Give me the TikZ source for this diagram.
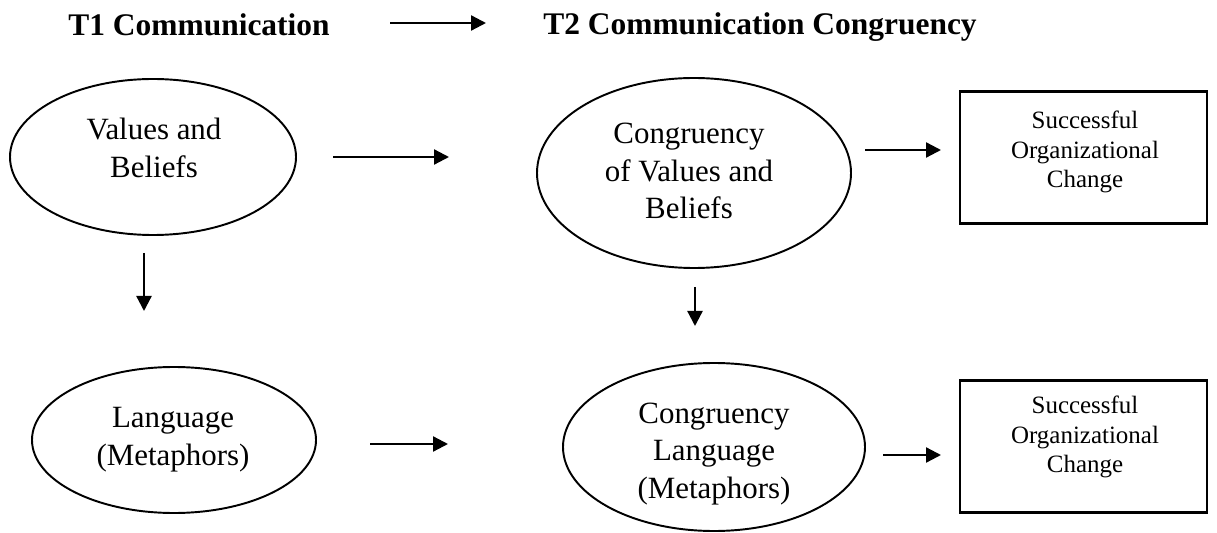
\documentclass[tikz,border=0pt]{standalone}
\usepackage{fontspec}
\setmainfont{Liberation Serif}
\usepackage{tikz}
\usetikzlibrary{shapes.geometric,arrows.meta,positioning}

\newcommand{\bodysize}{\fontsize{17.6}{21.5}\selectfont}
\newcommand{\boxsize}{\fontsize{14.2}{17}\selectfont}

\begin{document}
\begin{tikzpicture}[font=\bodysize,
  oval/.style={draw, ellipse, line width=1.1pt, inner sep=0pt},
  label text/.style={align=center, inner sep=0pt},
  change box/.style={draw, line width=1.4pt, minimum width=4.94cm, minimum height=2.64cm, inner sep=0pt},
  flow/.style={-{Triangle[length=0.3cm,width=0.3cm]}, line width=1.3pt},
  title/.style={font=\bfseries\fontsize{17.9}{21}\selectfont, anchor=base, inner sep=0pt}]

\useasboundingbox (0,0) rectangle (24.34,-10.66);

% titles
\node[title] (t1) at (3.98,-0.72) {T1 Communication};
\node[title] (t2) at (15.2,-0.70) {T2 Communication Congruency};

% T1 side
\node[oval, minimum width=5.72cm, minimum height=3.12cm] (vb) at (3.06,-3.14) {};
\node[label text] (vbt) at (3.08,-2.96) {Values and\\Beliefs};

\node[oval, minimum width=5.68cm, minimum height=2.92cm] (lang) at (3.48,-8.80) {};
\node[label text] (langt) at (3.46,-8.80) {Language\\(Metaphors)};

% T2 side
\node[oval, minimum width=6.28cm, minimum height=3.8cm] (cvb) at (13.88,-3.46) {};
\node[label text] (cvbt) at (13.78,-3.42) {Congruency\\of Values and\\Beliefs};

\node[oval, minimum width=6.04cm, minimum height=3.36cm] (clang) at (14.28,-8.94) {};
\node[label text] (clangt) at (14.28,-9.08) {Congruency\\Language\\(Metaphors)};

% outcomes
\node[change box] (soc1) at (21.67,-3.15) {};
\node[label text, font=\boxsize] (soc1t) at (21.7,-3.04) {Successful\\Organizational\\Change};

\node[change box] (soc2) at (21.67,-8.93) {};
\node[label text, font=\boxsize] (soc2t) at (21.7,-8.74) {Successful\\Organizational\\Change};

% arrow ends
\coordinate (top s) at (7.8,-0.46);   \coordinate (top e) at (9.72,-0.46);
\coordinate (a1 s) at (6.66,-3.14);   \coordinate (a1 e) at (8.98,-3.14);
\coordinate (a2 s) at (17.3,-3.0);    \coordinate (a2 e) at (18.82,-3.0);
\coordinate (a3 s) at (7.4,-8.88);    \coordinate (a3 e) at (8.96,-8.88);
\coordinate (a4 s) at (17.66,-9.1);   \coordinate (a4 e) at (18.82,-9.1);
\coordinate (d1 s) at (2.88,-5.06);   \coordinate (d1 e) at (2.88,-6.22);
\coordinate (d2 s) at (13.9,-5.74);   \coordinate (d2 e) at (13.9,-6.52);

\draw[flow] (top s) -- (top e);
\draw[flow] (a1 s) -- (a1 e);
\draw[flow] (a2 s) -- (a2 e);
\draw[flow] (a3 s) -- (a3 e);
\draw[flow] (a4 s) -- (a4 e);
\draw[flow] (d1 s) -- (d1 e);
\draw[flow] (d2 s) -- (d2 e);

\end{tikzpicture}
\end{document}
